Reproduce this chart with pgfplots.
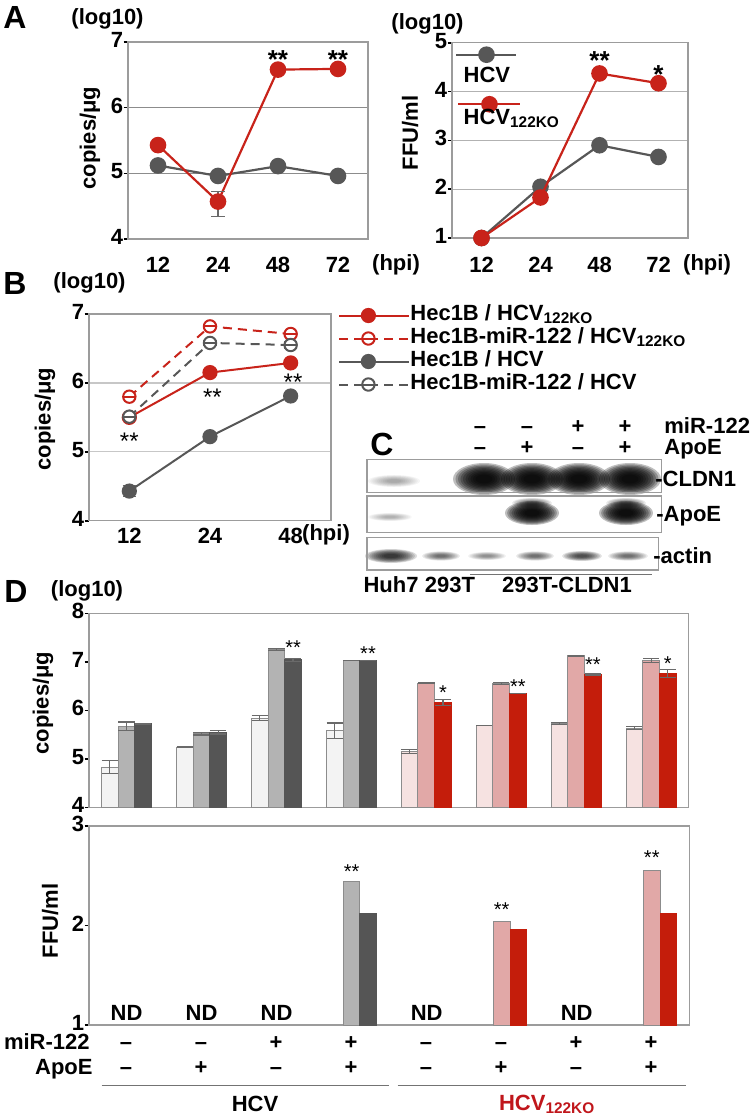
\documentclass[border=0pt]{standalone}
\usepackage{fontspec}
\setmainfont{Liberation Sans}
\usepackage{pgfplots}
\pgfplotsset{compat=1.18}
\usetikzlibrary{plotmarks}

\definecolor{lgray}{HTML}{575757}
\definecolor{lred}{HTML}{C8231A}
\definecolor{gl}{HTML}{F3F3F3}
\definecolor{gm}{HTML}{B3B3B3}
\definecolor{gd}{HTML}{555555}
\definecolor{rl}{HTML}{F6E2E1}
\definecolor{rm}{HTML}{E1A8A7}
\definecolor{rd}{HTML}{C41D0B}
\definecolor{fr}{HTML}{9C9C9C}
\definecolor{bf}{HTML}{8C8C8C}
\definecolor{ebc}{HTML}{6A6A6A}
\definecolor{labred}{HTML}{C0161B}

\pgfdeclareplotmark{ominus}{%
  \pgfpathcircle{\pgfpointorigin}{\pgfplotmarksize}%
  \pgfusepathqfillstroke
  \pgfpathmoveto{\pgfqpoint{-\pgfplotmarksize}{0pt}}%
  \pgfpathlineto{\pgfqpoint{\pgfplotmarksize}{0pt}}%
  \pgfusepathqstroke}

\newcommand{\fs}{\fontsize{11}{12.5}\selectfont\bfseries}
\newcommand{\band}[5]{%
  \foreach \k in {1.0,0.92,0.84,0.76,0.68,0.6,0.52,0.44,0.36,0.28}{\fill[black, opacity=#5] (#1,#2) ellipse ({#3*\k*1pt} and {#4*\k*1pt});}}
\newcommand{\stA}[3]{\node[font=\fontsize{13}{13}\selectfont\bfseries, anchor=base, yshift=-7.5pt] at (axis cs:#1,#2) {#3};}
\newcommand{\stB}[3]{\node[font=\fontsize{12}{12}\selectfont, anchor=base, yshift=-7pt] at (axis cs:#1,#2) {#3};}
\newcommand{\stD}[3]{\node[font=\fontsize{10}{10}\selectfont, anchor=base, yshift=-5.8pt] at (axis cs:#1,#2) {#3};}

\pgfplotsset{
  base/.style={
    scale only axis, anchor=north west,
    axis line style={fr, line width=0.6pt},
    tick align=outside, major tick length=2.2pt,
    ytick style={black, line width=0.8pt},
    xtick style={draw=none},
    ytick pos=left, xtick pos=bottom,
    yticklabel style={font=\fs, anchor=east, inner sep=0pt, text height=7.6pt, text depth=0pt, yshift=1pt},
    xticklabel style={font=\fs, anchor=center, inner sep=0pt, text height=7.6pt, text depth=0pt},
    clip mode=individual,
  },
  eb/.style={error bars/.cd, y dir=both, y explicit,
    error bar style={ebc, line width=0.6pt},
    error mark options={ebc, mark size=4.1pt, line width=0.6pt, rotate=90}},
  ebl/.style={error bars/.cd, y dir=both, y explicit,
    error bar style={ebc, line width=0.6pt},
    error mark options={ebc, mark size=3.3pt, line width=0.6pt, rotate=90}},
  legAg/.style={legend image code/.code={\path[draw=none, fill=none] (0pt,0pt) rectangle (0.1pt,0.1pt);\draw[##1, overlay, mark repeat=2, mark phase=2] plot coordinates {(-3.5pt,11pt)(11.5pt,11pt)(26.5pt,11pt)};}},
  legAr/.style={legend image code/.code={\path[draw=none, fill=none] (0pt,0pt) rectangle (0.1pt,0.1pt);\draw[##1, overlay, mark repeat=2, mark phase=2] plot coordinates {(-2.5pt,7pt)(13pt,7pt)(28.5pt,7pt)};}},
  legB/.style={legend image code/.code={\draw[##1, mark repeat=2, mark phase=2] plot coordinates {(0pt,0pt)(14.5pt,0pt)(35pt,0pt)};}},
}

\begin{document}
\begin{tikzpicture}[font=\fs]
\path[use as bounding box] (0pt,0pt) rectangle (376pt,-560pt);

% ================= Panel A left
\begin{axis}[base, at={(64pt,-21pt)}, width=120pt, height=98.5pt,
  xmin=-0.5, xmax=3.5, ymin=4, ymax=7,
  xtick={0,1,2,3}, xticklabels={12,24,48,72},
  xticklabel style={yshift=-10.8pt},
  ytick={4,5,6,7}, yticklabels={4,5,6,7},
  ymajorgrids, grid style={draw=black!45, line width=0.6pt}]
\addplot[lgray, line width=1.1pt, mark=*, mark size=3.6pt] coordinates {(0,5.12)(1,4.96)(2,5.11)(3,4.96)};
\addplot[lred, line width=1.1pt, mark=*, mark size=3.6pt, ebl] coordinates {(0,5.43) (1,4.57) += (0,0.15) -= (0,0.23) (2,6.58) (3,6.59)};
\stA{2}{6.83}{**}
\stA{3}{6.83}{**}
\end{axis}

% ================= Panel A right
\begin{axis}[base, at={(226pt,-21.35pt)}, width=118pt, height=97.65pt,
  xmin=-0.5, xmax=3.5, ymin=1, ymax=5,
  xtick={0,1,2,3}, xticklabels={12,24,48,72},
  xticklabel style={yshift=-11.2pt},
  ytick={1,2,3,4,5}, yticklabels={1,2,3,4,5},
  ymajorgrids, grid style={draw=black!30, line width=0.6pt},
  legend style={at={(axis description cs:0.047,0.875)}, anchor=north west, draw=none, fill=none,
    inner sep=0pt, row sep=11.6pt, font=\fs, nodes={inner sep=0pt}},
  legend cell align=left]
\addplot[lgray, line width=1.1pt, mark=*, mark size=3.6pt, legAg]
  coordinates {(0,1.0)(1,2.05)(2,2.9)(3,2.66)};
\addlegendentry{HCV}
\addplot[lred, line width=1.1pt, mark=*, mark size=3.6pt, legAr]
  coordinates {(0,1.0)(1,1.83)(2,4.37)(3,4.17)};
\addlegendentry{HCV\textsubscript{122KO}}
\stA{2}{4.75}{**}
\stA{3}{4.48}{*}
\end{axis}

% ================= Panel B
\begin{axis}[base, at={(44.5pt,-157pt)}, width=121pt, height=103.35pt,
  xmin=-0.5, xmax=2.5, ymin=4, ymax=7,
  xtick={0,1,2}, xticklabels={12,24,48},
  xticklabel style={yshift=-5.5pt},
  ytick={4,5,6,7}, yticklabels={4,5,6,7},
  ymajorgrids, grid style={draw=black!22, line width=0.6pt},
  legend style={at={(axis description cs:1.029,1.0435)}, anchor=north west, draw=none, fill=none,
    inner sep=0pt, row sep=1.4pt, font=\fs, nodes={inner sep=0pt, text height=7.6pt, text depth=2.5pt}},
  legend cell align=left, legB]
\addplot[lred, line width=1pt, mark=*, mark size=3.3pt, ebl] coordinates {(0,5.50) +- (0,0.03) (1,6.15) (2,6.29)};
\addlegendentry{Hec1B / HCV\textsubscript{122KO}}
\addplot[lred, line width=1pt, dash pattern=on 4.5pt off 3pt, mark=ominus, mark size=3.1pt, mark options={solid, fill=white}, ebl] coordinates {(0,5.80) (1,6.82) (2,6.71) +- (0,0.04)};
\addlegendentry{Hec1B-miR-122 / HCV\textsubscript{122KO}}
\addplot[lgray, line width=1pt, mark=*, mark size=3.3pt, ebl] coordinates {(0,4.43) +- (0,0.08) (1,5.22) (2,5.81) +- (0,0.03)};
\addlegendentry{Hec1B / HCV}
\addplot[lgray, line width=1pt, dash pattern=on 4.5pt off 3pt, mark=ominus, mark size=3.1pt, mark options={solid, fill=white}, ebl] coordinates {(0,5.51) (1,6.58) +- (0,0.04) (2,6.55) +- (0,0.05)};
\addlegendentry{Hec1B-miR-122 / HCV}
\stB{0}{5.24}{**}
\stB{1.03}{5.87}{**}
\stB{2.03}{6.09}{**}
\end{axis}

% ================= Panel D top
\begin{axis}[base, at={(44.5pt,-306.65pt)}, width=299.85pt, height=97pt,
  xmin=-0.5, xmax=7.5, ymin=4, ymax=8, xtick=\empty,
  ytick={4,5,6,7,8}, yticklabels={4,5,6,7,8},
  ybar, bar width=8.33pt]
\addplot[fill=gl, draw=bf, line width=0.5pt, bar shift=-8.33pt, eb] coordinates {(0,4.83) +- (0,0.14) (1,5.24) +- (0,0.01) (2,5.84) +- (0,0.05) (3,5.58) +- (0,0.16)};
\addplot[fill=gm, draw=bf, line width=0.5pt, bar shift=0pt, eb] coordinates {(0,5.67) +- (0,0.09) (1,5.52) +- (0,0.03) (2,7.26) +- (0,0.02) (3,7.02) +- (0,0.0)};
\addplot[fill=gd, draw=gd, line width=0.5pt, bar shift=8.33pt, eb] coordinates {(0,5.72) +- (0,0.01) (1,5.55) +- (0,0.04) (2,7.04) +- (0,0.03) (3,7.02) +- (0,0.0)};
\addplot[fill=rl, draw=bf, line width=0.5pt, bar shift=-8.33pt, eb] coordinates {(4,5.15) +- (0,0.04) (5,5.68) +- (0,0.0) (6,5.73) +- (0,0.02) (7,5.63) +- (0,0.03)};
\addplot[fill=rm, draw=bf, line width=0.5pt, bar shift=0pt, eb] coordinates {(4,6.56) +- (0,0.01) (5,6.56) +- (0,0.02) (6,7.12) +- (0,0.01) (7,7.02) +- (0,0.04)};
\addplot[fill=rd, draw=rd, line width=0.5pt, bar shift=8.33pt, eb] coordinates {(4,6.16) +- (0,0.06) (5,6.34) +- (0,0.0) (6,6.74) +- (0,0.01) (7,6.76) +- (0,0.08)};
\stD{2.222}{7.39}{**}
\stD{3.222}{7.26}{**}
\stD{4.222}{6.47}{*}
\stD{5.222}{6.59}{**}
\stD{6.222}{7.04}{**}
\stD{7.222}{7.07}{*}
\end{axis}

% ================= Panel D bottom
\begin{axis}[base, at={(44.5pt,-413pt)}, width=300.15pt, height=99.5pt,
  xmin=-0.5, xmax=7.5, ymin=1, ymax=3, xtick=\empty,
  ytick={1,2,3}, yticklabels={1,2,3},
  ybar, bar width=8.33pt]
\addplot[fill=gm, draw=bf, line width=0.5pt, bar shift=0pt] coordinates {(3,2.44)};
\addplot[fill=gd, draw=gd, line width=0.5pt, bar shift=8.33pt] coordinates {(3,2.12)};
\addplot[fill=rm, draw=bf, line width=0.5pt, bar shift=0pt] coordinates {(5,2.045) (7,2.55)};
\addplot[fill=rd, draw=rd, line width=0.5pt, bar shift=8.33pt] coordinates {(5,1.96) (7,2.12)};
\stD{3}{2.59}{**}
\stD{5}{2.21}{**}
\stD{7}{2.73}{**}
\node[anchor=base] at (axis cs:0,1.05) {ND};
\node[anchor=base] at (axis cs:1,1.05) {ND};
\node[anchor=base] at (axis cs:2,1.05) {ND};
\node[anchor=base] at (axis cs:4,1.05) {ND};
\node[anchor=base] at (axis cs:6,1.05) {ND};
\end{axis}

\begin{scope}[x=0.5pt, y=-0.5pt, every node/.style={inner sep=0pt}]
% ================= texts
\node[font=\fontsize{16}{16}\selectfont\bfseries] at (15,17) {A};
\node at (107.5,19) {(log10)};
\node at (427.5,24) {(log10)};
\node at (396,265) {(hpi)};
\node at (707,265) {(hpi)};
\node[rotate=90] at (90,138) {copies/μg};
\node[rotate=90] at (410,133) {FFU/ml};

\node[font=\fontsize{16}{16}\selectfont\bfseries] at (15,283) {B};
\node at (89.5,283) {(log10)};
\node[rotate=90] at (45,419) {copies/μg};
\node at (326,535) {(hpi)};

\node[font=\fontsize{16}{16}\selectfont\bfseries] at (16,591) {D};
\node at (87,591) {(log10)};
\node[rotate=90] at (43,703) {copies/μg};
\node[rotate=90] at (50,921) {FFU/ml};

\node[anchor=base east] at (90,1049) {miR-122};
\node[anchor=base east] at (93,1074) {ApoE};
\foreach \x/\a/\b in {126/–/–, 201/–/+, 276/+/–, 351/+/+, 426/–/–, 501/–/+, 576/+/–, 651/+/+}{
  \node[anchor=base] at (\x,1049) {\a};
  \node[anchor=base] at (\x,1074) {\b};}
\draw[black!55, line width=0.6pt] (101.7,1085.7) -- (389,1085.7);
\draw[black!55, line width=0.6pt] (397.7,1085.7) -- (686,1085.7);
\node[anchor=base] at (255,1111.7) {HCV};
\node[anchor=base west, text=labred] at (498.7,1110) {HCV\textsubscript{122KO}};

% ================= Panel C (blot)
\node[font=\fontsize{16}{16}\selectfont\bfseries] at (382,444) {C};
\foreach \x/\a/\b in {480/–/–, 527/–/+, 578/+/–, 625/+/+}{
  \node[anchor=base] at (\x,433.5) {\a};
  \node[anchor=base] at (\x,454) {\b};}
\node[anchor=base west] at (664,433.5) {miR-122};
\node[anchor=base west] at (664,454) {ApoE};

\band{394}{481}{13}{3}{0.04}
\foreach \c in {484,532,579,630}{\band{\c}{479}{15.5}{8}{0.25}}
\band{390}{517}{11}{2}{0.035}
\band{532}{513}{13.5}{6}{0.25}
\band{532}{503}{10}{2.5}{0.08}
\band{626}{513}{13.5}{6}{0.25}
\band{626}{503}{10}{2.5}{0.08}
\band{391}{556}{13}{3.5}{0.14}
\band{441}{556}{9.5}{2.3}{0.08}
\band{487}{556}{9.5}{2}{0.055}
\band{535}{556}{9.5}{2.3}{0.08}
\band{582}{556}{10}{2.5}{0.11}
\band{628}{556}{10}{2.3}{0.08}

\draw[fr, line width=0.6pt] (367,459.3) rectangle (661.7,492.7);
\draw[fr, line width=0.6pt] (367,496) rectangle (661.7,532.7);
\draw[fr, line width=0.6pt] (367,537.3) rectangle (658.3,570);
\node[anchor=base west] at (655,486.7) {-CLDN1};
\node[anchor=base west] at (656,521) {-ApoE};
\node[anchor=base west] at (653,563) {-actin};
\draw[black!55, line width=0.6pt] (470,574.3) -- (652,574.3);
\node[anchor=base] at (391,592) {Huh7};
\node[anchor=base] at (450,592) {293T};
\node[anchor=base] at (567,592) {293T-CLDN1};
\end{scope}
\end{tikzpicture}
\end{document}
